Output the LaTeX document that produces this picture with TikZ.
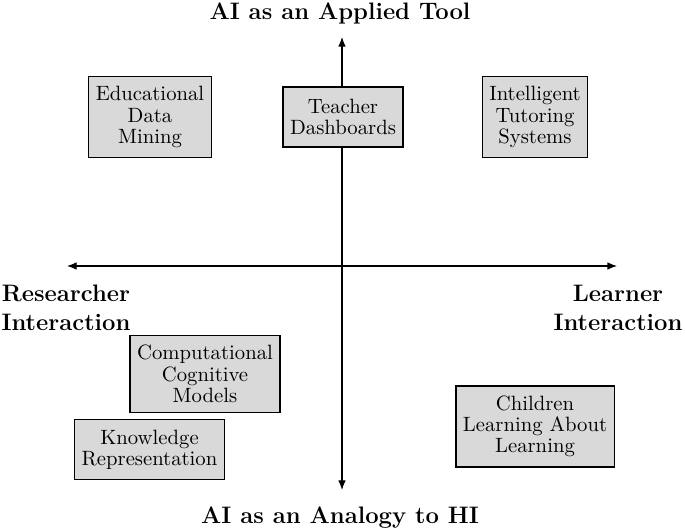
\documentclass[tikz,border=0pt]{standalone}
\usetikzlibrary{arrows.meta}
\begin{document}
\begin{tikzpicture}[x=0.483pt,y=-0.483pt,
  box/.style={draw=black, fill=black!15, line width=0.6pt, align=center,
    inner xsep=3.4pt, inner ysep=4.7pt, minimum height=29pt, font=\fontsize{10}{10.3}\selectfont},
  axislabel/.style={align=center, font=\fontsize{11.5}{14}\selectfont\bfseries},
  axis/.style={line width=0.5pt, {Latex[length=4.6pt,width=3.6pt]}-{Latex[length=4.6pt,width=3.6pt]}}]
\useasboundingbox (0,0) rectangle (685,530);
% axes
\coordinate (L) at (67,266);
\coordinate (R) at (617,266);
\coordinate (T) at (342,37);
\coordinate (B) at (342,490);
\draw[axis] (L) -- (R);
\draw[axis] (B) -- (T);
% axis labels
\node[axislabel] (top) at (340,13) {AI as an Applied Tool};
\node[axislabel] (bottom) at (340,518) {AI as an Analogy to HI};
\node[axislabel] (left) at (66,308) {Researcher\\Interaction};
\node[axislabel] (right) at (618,308) {Learner\\Interaction};
% boxes
\node[box] (edm) at (150,117) {Educational\\Data\\Mining};
\node[box] (td) at (343,117) {Teacher\\Dashboards};
\node[box] (its) at (535,117) {Intelligent\\Tutoring\\Systems};
\node[box] (ccm) at (205,374) {Computational\\Cognitive\\Models};
\node[box] (kr) at (149.5,449.5) {Knowledge\\Representation};
\node[box] (clal) at (535,426.5) {Children\\Learning About\\Learning};
\end{tikzpicture}
\end{document}
